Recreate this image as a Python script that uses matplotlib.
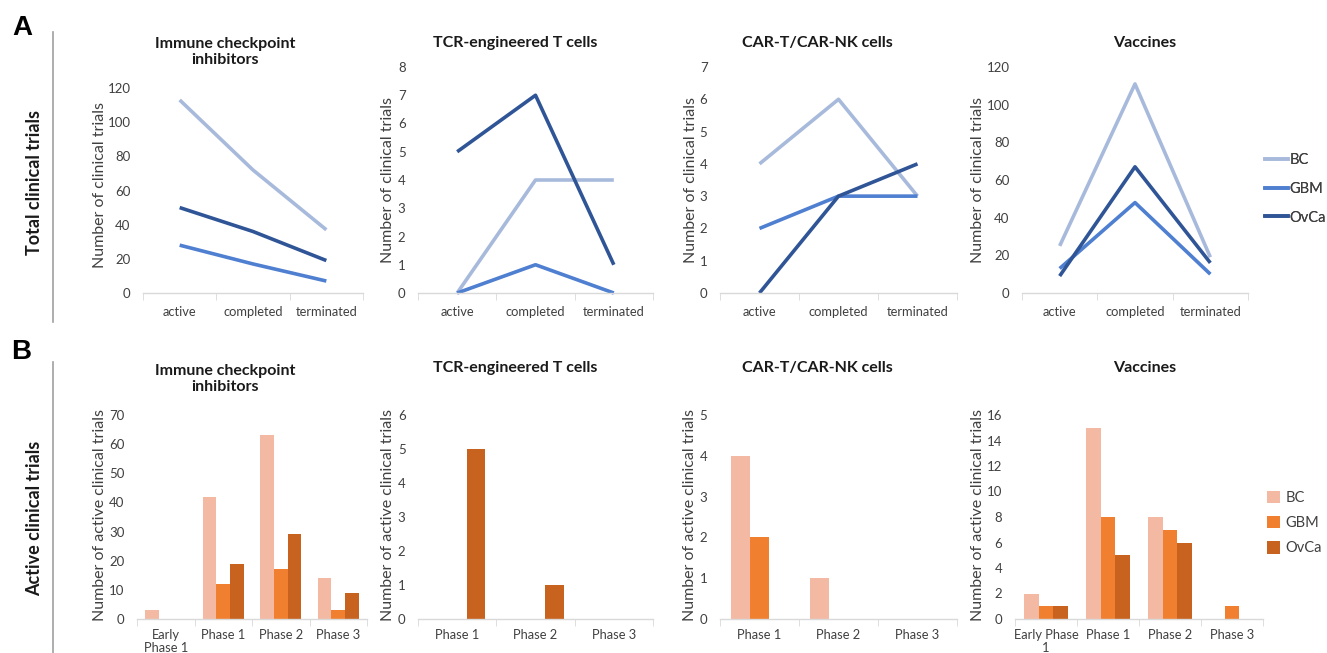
import matplotlib
matplotlib.use("Agg")
import matplotlib.pyplot as plt
from matplotlib.lines import Line2D
from matplotlib.patches import Patch
import numpy as np

W, H = 1327, 653
plt.rcParams['font.family'] = ['Lato', 'DejaVu Sans']

# ---------------- data ----------------
series = ["BC", "GBM", "OvCa"]
status_cats = ["active", "completed", "terminated"]

ici_total_bc = [113, 72, 37]
ici_total_gbm = [28, 17, 7]
ici_total_ovca = [50, 36, 19]

tcr_total_bc = [0, 4, 4]
tcr_total_gbm = [0, 1, 0]
tcr_total_ovca = [5, 7, 1]

car_total_bc = [4, 6, 3]
car_total_gbm = [2, 3, 3]
car_total_ovca = [0, 3, 4]

vac_total_bc = [25, 111, 19]
vac_total_gbm = [13, 48, 10]
vac_total_ovca = [9, 67, 16]

ici_phases = ["Early\nPhase 1", "Phase 1", "Phase 2", "Phase 3"]
ici_active_bc = [3, 42, 63, 14]
ici_active_gbm = [0, 12, 17, 3]
ici_active_ovca = [0, 19, 29, 9]

tcr_phases = ["Phase 1", "Phase 2", "Phase 3"]
tcr_active_bc = [0, 0, 0]
tcr_active_gbm = [0, 0, 0]
tcr_active_ovca = [5, 1, 0]

car_phases = ["Phase 1", "Phase 2", "Phase 3"]
car_active_bc = [4, 1, 0]
car_active_gbm = [2, 0, 0]
car_active_ovca = [0, 0, 0]

vac_phases = ["Early Phase\n1", "Phase 1", "Phase 2", "Phase 3"]
vac_active_bc = [2, 15, 8, 0]
vac_active_gbm = [1, 8, 7, 1]
vac_active_ovca = [1, 5, 6, 0]

line_colors = ["#a8badc", "#4f7fd0", "#2f5597"]
bar_colors = ["#f3b9a2", "#f08030", "#c8621f"]
text_color = "#404040"

fig = plt.figure(figsize=(W / 100, H / 100), dpi=100)


def add_ax(x0, x1, ytop, ybot):
    return fig.add_axes([x0 / W, 1 - ybot / H, (x1 - x0) / W, (ybot - ytop) / H])


def style(ax, cats, ymax, ystep, ylabel, ylab_x, ylab_y, x0, x1, ytop, ybot, xpad):
    n = len(cats)
    ax.set_xlim(-0.5, n - 0.5)
    ax.set_ylim(0, ymax)
    ax.set_yticks(np.arange(0, ymax + ystep / 2, ystep))
    for s in ["top", "right", "left"]:
        ax.spines[s].set_visible(False)
    ax.spines["bottom"].set_color("#d9d9d9")
    ax.spines["bottom"].set_linewidth(1.0)
    ax.tick_params(axis="y", length=0, pad=9, labelsize=9.5, labelcolor=text_color)
    ax.set_xticks(range(n))
    ax.set_xticklabels(cats, fontsize=9.3, color=text_color, linespacing=1.1)
    ax.set_xticks(np.arange(-0.5, n), minor=True)
    ax.tick_params(axis="x", which="major", length=0, pad=xpad)
    ax.tick_params(axis="x", which="minor", length=5, color="#d9d9d9")
    ax.set_ylabel(ylabel, fontsize=11.5, color=text_color)
    ax.yaxis.label.set_va("center")
    ax.yaxis.set_label_coords((ylab_x - x0) / (x1 - x0), (ybot - ylab_y) / (ybot - ytop))
    ax.patch.set_alpha(0)


# ---------------- panel A: line charts ----------------
line_specs = [
    (143, 363, 88, 293, 120, 20, [ici_total_bc, ici_total_gbm, ici_total_ovca], 100, 185),
    (418, 653, 67, 293, 8, 1, [tcr_total_bc, tcr_total_gbm, tcr_total_ovca], 388, 180),
    (720, 957, 67, 293, 7, 1, [car_total_bc, car_total_gbm, car_total_ovca], 691, 180),
    (1022, 1248, 67, 293, 120, 20, [vac_total_bc, vac_total_gbm, vac_total_ovca], 978, 180),
]
for x0, x1, yt, yb, ymax, ystep, data, lx, ly in line_specs:
    ax = add_ax(x0, x1, yt, yb)
    for vals, c, name in zip(data, line_colors, series):
        ax.plot(range(len(status_cats)), vals, color=c, lw=2.6, label=name,
                solid_capstyle="butt", clip_on=False)
    style(ax, status_cats, ymax, ystep, "Number of clinical trials", lx, ly,
          x0, x1, yt, yb, 9)

# ---------------- panel B: bar charts ----------------
bar_specs = [
    (137, 367, 415, 619, 70, 10, ici_phases, [ici_active_bc, ici_active_gbm, ici_active_ovca], 100, 515),
    (418, 653, 415, 619, 6, 1, tcr_phases, [tcr_active_bc, tcr_active_gbm, tcr_active_ovca], 388, 515),
    (720, 957, 415, 619, 5, 1, car_phases, [car_active_bc, car_active_gbm, car_active_ovca], 690, 515),
    (1015, 1263, 415, 619, 16, 2, vac_phases, [vac_active_bc, vac_active_gbm, vac_active_ovca], 978, 515),
]
bw = 0.24
for x0, x1, yt, yb, ymax, ystep, cats, data, lx, ly in bar_specs:
    ax = add_ax(x0, x1, yt, yb)
    xs = np.arange(len(cats))
    for i, (vals, c, name) in enumerate(zip(data, bar_colors, series)):
        ax.bar(xs + (i - 1) * bw, vals, width=bw, color=c, label=name, zorder=2)
    style(ax, cats, ymax, ystep, "Number of active clinical trials", lx, ly,
          x0, x1, yt, yb, 7)

# ---------------- titles ----------------
tfs = 11.5
tcol = "#1a1a1a"
fig.text(225 / W, 1 - 52 / H, "Immune checkpoint\ninhibitors", ha="center", va="center",
         fontsize=tfs, fontweight="bold", color=tcol, linespacing=1.25)
fig.text(515 / W, 1 - 43 / H, "TCR-engineered T cells", ha="center", va="center",
         fontsize=tfs, fontweight="bold", color=tcol)
fig.text(817 / W, 1 - 43 / H, "CAR-T/CAR-NK cells", ha="center", va="center",
         fontsize=tfs, fontweight="bold", color=tcol)
fig.text(1145 / W, 1 - 43 / H, "Vaccines", ha="center", va="center",
         fontsize=tfs, fontweight="bold", color=tcol)

fig.text(225 / W, 1 - 379 / H, "Immune checkpoint\ninhibitors", ha="center", va="center",
         fontsize=tfs, fontweight="bold", color=tcol, linespacing=1.25)
fig.text(515 / W, 1 - 368 / H, "TCR-engineered T cells", ha="center", va="center",
         fontsize=tfs, fontweight="bold", color=tcol)
fig.text(817 / W, 1 - 368 / H, "CAR-T/CAR-NK cells", ha="center", va="center",
         fontsize=tfs, fontweight="bold", color=tcol)
fig.text(1145 / W, 1 - 368 / H, "Vaccines", ha="center", va="center",
         fontsize=tfs, fontweight="bold", color=tcol)

# ---------------- panel labels & side labels ----------------
fig.text(22 / W, 1 - 28 / H, "A", ha="center", va="center", fontsize=20,
         fontweight="bold", family=["Liberation Sans", "DejaVu Sans"])
fig.text(21 / W, 1 - 352 / H, "B", ha="center", va="center", fontsize=20,
         fontweight="bold", family=["Liberation Sans", "DejaVu Sans"])
fig.text(35 / W, 1 - 182 / H, "Total clinical trials", rotation=90, ha="center",
         va="center", fontsize=13, fontweight="bold", color=tcol)
fig.text(35 / W, 1 - 518 / H, "Active clinical trials", rotation=90, ha="center",
         va="center", fontsize=13, fontweight="bold", color=tcol)
fig.add_artist(Line2D([53 / W, 53 / W], [1 - 32 / H, 1 - 322 / H], color="#a0a0a0", lw=1.2))
fig.add_artist(Line2D([53 / W, 53 / W], [1 - 362 / H, 0], color="#a0a0a0", lw=1.2))

# ---------------- legends ----------------
leg_a = fig.legend(handles=[Line2D([0], [0], color=c, lw=2.6) for c in line_colors],
                   labels=series, loc="center left", bbox_to_anchor=(1265 / W, 1 - 189 / H),
                   frameon=False, fontsize=10.5, handlelength=1.55, handletextpad=0.15,
                   labelspacing=1.0, labelcolor=text_color,
                   borderpad=0, borderaxespad=0)
fig.legend(handles=[Patch(facecolor=c) for c in bar_colors],
           labels=series, loc="center left", bbox_to_anchor=(1267 / W, 1 - 523 / H),
           frameon=False, fontsize=10.5, handlelength=0.9, handleheight=0.9,
           handletextpad=0.35, labelspacing=0.78, labelcolor=text_color,
           borderpad=0, borderaxespad=0)
fig.add_artist(leg_a)

fig.savefig("out.png", dpi=100)
